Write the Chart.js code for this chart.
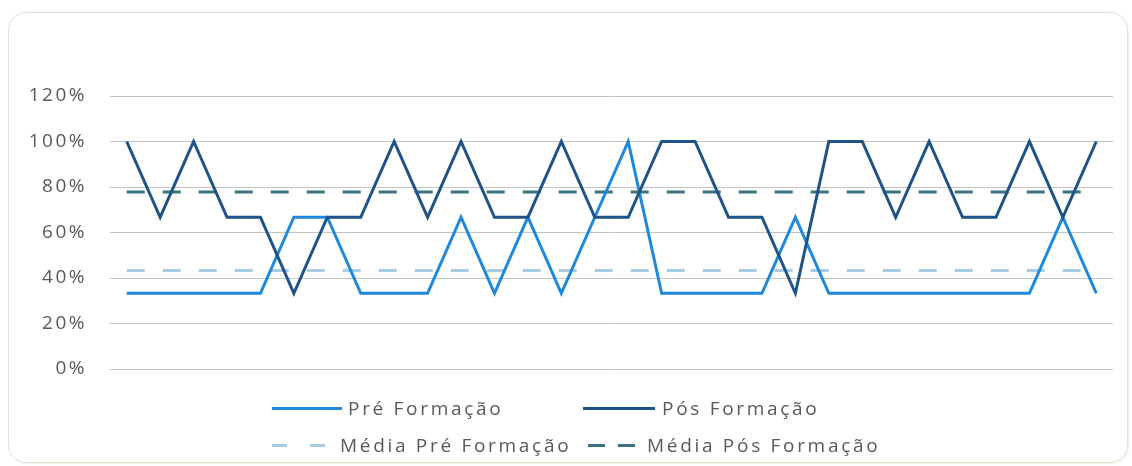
<!DOCTYPE html>
<html><head><meta charset="utf-8">
<script src="https://cdn.jsdelivr.net/npm/chart.js@4.4.1/dist/chart.umd.min.js"></script>
<style>
html,body{margin:0;padding:0;background:#fff;}
#wrap{position:relative;width:1132px;height:466px;overflow:hidden;background:#fff;}
#frame{position:absolute;left:8px;top:12px;width:1120px;height:451px;box-sizing:border-box;border:1.5px solid #e3e0d2;border-radius:18px;box-shadow:1px 1px 2px rgba(200,195,175,0.3);}
#c{position:absolute;left:0;top:0;}
.lg{position:absolute;font-family:'Open Sans',sans-serif;font-size:19px;color:#595959;letter-spacing:2.7px;line-height:24px;white-space:nowrap;}
.sw{position:absolute;height:3px;}
</style></head>
<body>
<div id="wrap">
  <div id="frame"></div>
  <canvas id="c" width="1132" height="466"></canvas>
  <div class="sw" style="left:272px;top:407px;width:70px;background:#1e88dc"></div>
  <div class="lg" style="left:348px;top:396px">Pré Formação</div>
  <div class="sw" style="left:583px;top:407px;width:72px;background:#1f5387"></div>
  <div class="lg" style="left:662px;top:396px">Pós Formação</div>
  <div class="sw" style="left:272px;top:444px;width:15px;background:#a8cce3"></div>
  <div class="sw" style="left:310px;top:444px;width:15px;background:#a8cce3"></div>
  <div class="lg" style="left:340px;top:433px">Média Pré Formação</div>
  <div class="sw" style="left:588px;top:444px;width:17px;background:#3a7480"></div>
  <div class="sw" style="left:618px;top:444px;width:17px;background:#3a7480"></div>
  <div class="lg" style="left:647px;top:433px">Média Pós Formação</div>
</div>
<script>
const categorias = ['1','2','3','4','5','6','7','8','9','10','11','12','13','14','15','16','17','18','19','20','21','22','23','24','25','26','27','28','29','30'];
const preFormacao = [33.3,33.3,33.3,33.3,33.3,66.7,66.7,33.3,33.3,33.3,66.7,33.3,66.7,33.3,66.7,100,33.3,33.3,33.3,33.3,66.7,33.3,33.3,33.3,33.3,33.3,33.3,33.3,66.7,33.3];
const posFormacao = [100,66.7,100,66.7,66.7,33.3,66.7,66.7,100,66.7,100,66.7,66.7,100,66.7,66.7,100,100,66.7,66.7,33.3,100,100,66.7,100,66.7,66.7,100,66.7,100];
const mediaPre = [43.3,43.3,43.3,43.3,43.3,43.3,43.3,43.3,43.3,43.3,43.3,43.3,43.3,43.3,43.3,43.3,43.3,43.3,43.3,43.3,43.3,43.3,43.3,43.3,43.3,43.3,43.3,43.3,43.3,43.3];
const mediaPos = [77.8,77.8,77.8,77.8,77.8,77.8,77.8,77.8,77.8,77.8,77.8,77.8,77.8,77.8,77.8,77.8,77.8,77.8,77.8,77.8,77.8,77.8,77.8,77.8,77.8,77.8,77.8,77.8,77.8,77.8];
const yTicks = [0,20,40,60,80,100,120];

const spacing = {
  id:'spacing',
  beforeLayout(chart){ chart.ctx.letterSpacing = '2.5px'; },
  beforeDraw(chart){ chart.ctx.letterSpacing = '2.5px'; }
};

new Chart(document.getElementById('c'), {
  type:'line',
  data:{
    labels:categorias,
    datasets:[
      {label:'Média Pré Formação', data:mediaPre, borderColor:'#a8cce3', borderWidth:3, borderDash:[18,18], pointRadius:0, tension:0, order:4},
      {label:'Média Pós Formação', data:mediaPos, borderColor:'#3a7480', borderWidth:3, borderDash:[18,18], pointRadius:0, tension:0, order:3},
      {label:'Pré Formação', data:preFormacao, borderColor:'#1e88dc', borderWidth:3, pointRadius:0, tension:0, order:2},
      {label:'Pós Formação', data:posFormacao, borderColor:'#1f5387', borderWidth:3, pointRadius:0, tension:0, order:1}
    ]
  },
  options:{
    responsive:false, animation:false,
    layout:{padding:{top:96,right:19,bottom:97,left:0}},
    plugins:{legend:{display:false}, tooltip:{enabled:false}},
    scales:{
      x:{display:false, offset:true},
      y:{
        min:0, max:120,
        afterFit(s){ s.width = 110; },
        afterBuildTicks(s){ s.ticks = yTicks.map(v=>({value:v})); },
        border:{display:false},
        grid:{color:'#c4c4c4', lineWidth:1, drawTicks:false},
        ticks:{padding:23, color:'#595959', font:{family:'Open Sans', size:19}, callback:v=>v+'%'}
      }
    }
  },
  plugins:[spacing]
});
</script>
</body></html>
